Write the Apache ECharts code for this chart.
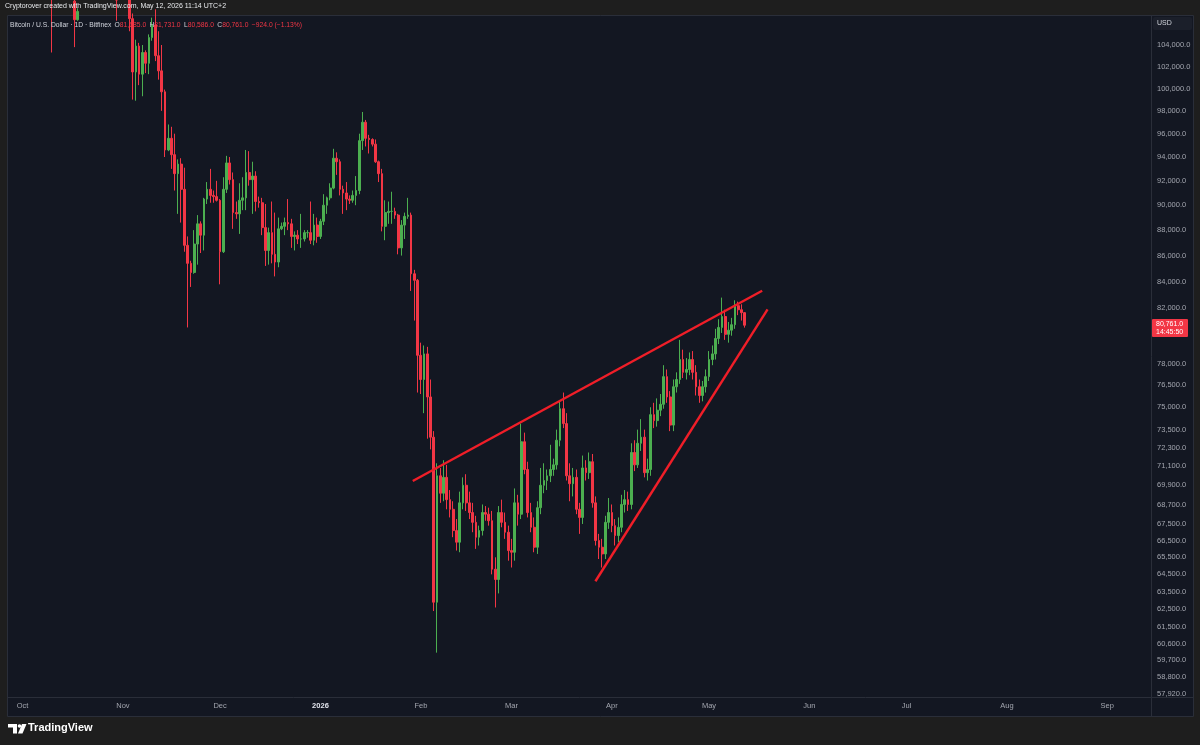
<!DOCTYPE html>
<html><head><meta charset="utf-8">
<script src="https://cdn.jsdelivr.net/npm/echarts@6/dist/echarts.min.js"></script>
<style>html,body{margin:0;padding:0;background:#1e1e1e;}#c{width:1200px;height:745px;}</style>
</head><body><div id="c"></div>
<script>
// Daily candles, BTC/USD (Bitfinex), rows = [open, high, low, close] in thousands of USD
const sep2025 = [ // from Sep 27
  [109.7,110.0,109.1,109.6],[109.6,112.3,109.2,112.1],[112.1,114.4,111.6,114.3],[114.3,114.8,112.7,114.0]
];
const oct2025 = [
  [114.0,118.6,113.9,118.5],[118.5,121.0,118.2,120.5],[120.5,123.9,119.4,122.2],[122.2,122.9,121.4,122.3],
  [122.3,125.7,122.0,123.5],[123.5,126.2,123.0,124.7],[124.7,125.1,120.6,121.4],[121.4,124.1,121.1,123.3],
  [123.3,123.7,119.7,121.7],[121.7,122.5,103.3,113.2],[113.2,113.4,109.7,110.7],[110.7,115.8,109.8,115.0],
  [115.0,116.0,113.0,115.3],[115.3,115.4,110.0,113.0],[113.0,113.6,110.2,110.7],[110.7,111.8,107.5,108.2],
  [108.2,109.2,103.8,106.4],[106.4,107.5,106.3,107.2],[107.2,109.5,106.9,108.6],[108.6,111.7,107.5,110.5],
  [110.5,114.0,107.5,108.4],[108.4,109.0,107.0,107.6],[107.6,111.3,107.5,110.0],[110.0,112.0,109.7,111.0],
  [111.0,111.9,110.6,111.6],[111.6,115.0,111.3,114.5],[114.5,116.4,114.0,114.1],[114.1,116.1,112.2,112.9],
  [112.9,113.6,109.3,110.0],[110.0,111.6,106.3,108.3],[108.3,111.2,108.2,109.6]
];
const nov2025 = [
  [109.6,110.6,109.4,110.1],[110.1,111.2,109.6,110.6],[110.6,110.8,105.3,106.5],[106.5,107.0,99.0,101.5],
  [101.5,104.5,98.9,103.9],[103.9,104.2,100.3,101.3],[101.3,104.0,99.3,103.3],[103.3,103.5,101.4,102.3],
  [102.3,105.0,101.3,104.7],[104.7,106.6,104.4,105.9],[105.9,107.4,102.5,103.0],[103.0,105.3,100.8,101.6],
  [101.6,104.0,98.0,99.7],[99.7,99.9,94.0,94.6],[94.6,96.8,94.5,95.6],[95.6,96.6,93.0,94.2],
  [94.2,96.0,91.2,92.6],[92.6,93.8,89.3,93.4],[93.4,93.9,88.6,91.3],[91.3,93.1,86.3,86.8],
  [86.8,87.5,80.6,85.4],[85.4,85.6,83.6,84.7],[84.7,88.0,84.6,86.9],[86.9,89.2,85.3,88.5],
  [88.5,88.7,86.2,87.6],[87.6,90.6,86.4,90.5],[90.5,91.9,90.1,91.3],[91.3,93.0,90.2,90.8],
  [90.8,91.2,90.2,90.7],[90.7,92.0,90.3,90.4]
];
const dec2025 = [
  [90.4,90.5,83.8,86.3],[86.3,92.3,86.2,91.3],[91.3,94.1,91.0,93.5],[93.5,94.0,91.7,92.1],
  [92.1,92.7,88.1,89.4],[89.4,90.3,88.9,89.3],[89.3,91.8,87.7,90.4],[90.4,92.3,89.6,90.6],
  [90.6,94.6,89.6,92.7],[92.7,94.5,91.6,92.1],[92.1,93.6,89.3,92.4],[92.4,92.8,89.5,90.3],
  [90.3,90.7,89.8,90.2],[90.2,90.6,87.6,88.2],[88.2,90.1,85.2,86.4],[86.4,88.2,85.3,87.8],
  [87.8,90.3,85.4,86.1],[86.1,89.4,84.4,85.5],[85.5,89.0,85.1,88.1],[88.1,88.6,88.0,88.3],
  [88.3,89.0,87.6,88.6],[88.6,90.5,88.0,88.5],[88.5,88.9,86.6,87.5],[87.5,87.9,86.4,87.6],
  [87.6,88.0,86.9,87.3],[87.3,89.3,86.6,87.3],[87.3,88.0,87.1,87.8],[87.8,88.0,87.4,87.8],
  [87.8,90.3,86.9,87.2],[87.2,89.3,86.8,88.4],[88.4,89.0,87.0,87.5]
];
const jan2026 = [
  [87.5,88.9,87.3,88.7],[88.7,90.9,88.4,90.0],[90.0,90.7,89.3,90.6],[90.6,91.8,90.4,91.4],
  [91.4,94.7,91.3,93.9],[93.9,94.4,92.5,93.6],[93.6,93.8,90.8,91.3],[91.3,91.6,89.3,91.0],
  [91.0,91.9,89.6,90.5],[90.5,90.8,90.1,90.4],[90.4,91.2,90.2,90.8],[90.8,92.4,90.0,91.2],
  [91.2,96.0,90.9,95.4],[95.4,97.9,94.6,97.0],[97.0,97.2,94.9,95.6],[95.6,95.9,94.3,95.5],
  [95.5,95.6,94.9,95.1],[95.1,95.5,93.5,93.6],[93.6,93.7,91.9,92.6],[92.6,93.0,87.9,88.3],
  [88.3,90.4,87.2,89.4],[89.4,90.3,88.5,89.5],[89.5,91.1,88.5,89.5],[89.5,89.8,88.9,89.2],
  [89.2,89.3,86.1,86.6],[86.6,88.8,86.0,88.4],[88.4,89.4,87.3,89.1],[89.1,90.6,88.9,89.2],
  [89.2,89.4,83.3,84.6],[84.6,84.9,81.1,84.1],[84.1,84.2,76.0,78.6]
];
const feb2026 = [
  [78.6,79.5,75.9,76.9],[76.9,79.3,74.6,78.7],[78.7,79.2,72.9,75.7],[75.7,76.9,72.2,73.0],
  [73.0,73.4,62.4,62.9],[62.9,71.3,60.1,70.5],[70.5,71.0,68.8,69.4],[69.4,71.5,68.9,70.4],
  [70.4,71.2,68.4,69.0],[69.0,69.6,67.9,68.4],[68.4,68.9,66.7,67.1],[67.1,67.8,65.9,66.4],
  [66.4,69.5,65.8,68.8],[68.8,70.4,68.4,69.9],[69.9,70.6,68.3,68.8],[68.8,69.5,67.8,68.2],
  [68.2,68.8,67.0,67.6],[67.6,68.0,66.0,66.7],[66.7,67.4,66.2,67.1],[67.1,68.7,66.8,68.2],
  [68.2,68.6,67.7,68.1],[68.1,68.5,67.4,67.7],[67.7,68.3,64.5,64.8],[64.8,65.5,62.6,64.2],
  [64.2,68.6,63.4,68.2],[68.2,69.0,67.3,67.6],[67.6,68.2,66.6,67.0],[67.0,67.4,65.3,65.9]
];
const mar2026 = [
  [65.9,66.6,64.9,65.8],[65.8,69.7,65.3,68.8],[68.8,69.3,67.4,68.1],[68.1,73.9,67.8,72.7],
  [72.7,73.3,70.6,70.9],[70.9,71.4,67.9,68.2],[68.2,68.8,67.0,67.3],[67.3,67.9,65.8,66.1],
  [66.1,68.9,65.7,68.5],[68.5,71.0,68.1,69.9],[69.9,71.3,69.4,70.2],[70.2,70.9,69.6,70.5],
  [70.5,72.5,70.1,70.9],[70.9,71.6,70.5,71.2],[71.2,73.5,70.9,72.8],[72.8,75.4,72.4,74.9],
  [74.9,76.0,73.6,73.9],[73.9,74.6,70.2,70.5],[70.5,71.3,68.9,70.0],[70.0,71.0,69.2,70.4],
  [70.4,70.9,68.1,68.4],[68.4,68.8,66.9,67.9],[67.9,71.8,67.5,71.0],[71.0,71.5,70.2,70.7],
  [70.7,72.0,70.3,71.4],[71.4,71.9,68.5,68.8],[68.8,69.2,66.2,66.5],[66.5,66.9,65.4,66.1],
  [66.1,66.6,64.9,65.7],[65.7,68.0,65.4,67.6],[67.6,69.1,67.2,68.2]
];
const apr2026 = [
  [68.2,68.7,67.0,67.4],[67.4,67.8,66.2,66.8],[66.8,67.9,66.4,67.3],[67.3,69.3,67.0,68.7],
  [68.7,69.6,68.2,69.0],[69.0,69.5,68.3,68.7],[68.7,72.6,68.4,72.0],[72.0,72.8,70.8,71.2],
  [71.2,73.5,71.0,72.6],[72.6,74.2,72.1,73.0],[73.0,73.5,70.4,70.7],[70.7,71.6,70.2,70.9],
  [70.9,75.0,70.5,74.5],[74.5,75.3,73.6,74.1],[74.1,75.6,73.7,74.8],[74.8,75.9,74.4,75.2],
  [75.2,77.9,74.9,77.1],[77.1,77.6,75.3,75.7],[75.7,76.1,73.4,73.8],[73.8,76.9,73.4,76.4],
  [76.4,77.4,76.0,76.9],[76.9,79.7,76.6,78.3],[78.3,79.0,77.0,77.4],[77.4,78.4,76.9,77.6],
  [77.6,78.8,77.2,78.3],[78.3,78.9,76.9,77.4],[77.4,77.9,75.8,76.4],[76.4,76.9,75.3,75.8],
  [75.8,76.8,75.4,76.4],[76.4,77.6,76.0,77.1]
];
const may2026 = [ // to May 12
  [77.1,78.9,76.8,78.3],[78.3,79.3,77.9,78.7],[78.7,80.5,78.3,79.8],[79.8,81.2,79.4,80.6],
  [80.6,82.8,80.2,81.4],[81.4,81.9,79.7,80.1],[80.1,81.0,79.5,80.4],[80.4,81.3,80.0,80.8],
  [80.8,82.6,80.5,82.2],[82.2,82.5,81.5,81.9],[81.9,82.3,81.1,81.685],[81.685,81.731,80.586,80.761]
];
const monthBlocks = [
  ['2025-09',27,sep2025],['2025-10',1,oct2025],['2025-11',1,nov2025],['2025-12',1,dec2025],
  ['2026-01',1,jan2026],['2026-02',1,feb2026],['2026-03',1,mar2026],['2026-04',1,apr2026],['2026-05',1,may2026]
];
// Price axis tick labels (as shown on the TradingView scale)
const priceTicks = [104000,102000,100000,98000,96000,94000,92000,90000,88000,86000,84000,82000,78000,76500,75000,
  73500,72300,71100,69900,68700,67500,66500,65500,64500,63500,62500,61500,60600,59700,58800,57920];
const monthNames = ['Jan','Feb','Mar','Apr','May','Jun','Jul','Aug','Sep','Oct','Nov','Dec'];
const axisStart = '2025-09-27', axisEnd = '2026-09-14';
const priceMin = 57742, priceMax = 106758;
// Drawn trend lines (wedge): [time, price]
const upperLine = [['2026-01-29 12:00',70170],['2026-05-17 10:00',83310]];
const lowerLine = [['2026-03-26 22:00',64100],['2026-05-19 02:00',81930]];
const lastPrice = 80761;

const candleDates = [], candleValues = [];
monthBlocks.forEach(([ym, d0, rows]) => rows.forEach((r, i) => {
  candleDates.push(ym + '-' + String(d0 + i).padStart(2, '0'));
  candleValues.push([r[0]*1000, r[3]*1000, r[2]*1000, r[1]*1000]);
}));
const axisDates = [];
for (let t = Date.parse(axisStart + 'T00:00:00Z'); t <= Date.parse(axisEnd + 'T00:00:00Z'); t += 86400000)
  axisDates.push(new Date(t).toISOString().slice(0, 10));
const idx = {}; candleDates.forEach((d, i) => idx[d] = i);
const seriesData = axisDates.map(d => idx[d] != null ? candleValues[idx[d]] : ['-','-','-','-']);

const UP = '#4caf50', DOWN = '#f23645', PANE = '#131722', LINE = '#2a2e39';
const fmt = v => Math.round(v).toLocaleString('en-US', {minimumFractionDigits: 1, maximumFractionDigits: 1});
const FONT = 'Liberation Sans, Arial, sans-serif';

const chart = echarts.init(document.getElementById('c'), null, {renderer: 'canvas'});
chart.setOption({
  animation: false,
  backgroundColor: '#1e1e1e',
  grid: {left: 8, right: 49, top: 16, bottom: 48, show: false},
  xAxis: [{
    type: 'category', data: axisDates, boundaryGap: true,
    axisLine: {show: true, lineStyle: {color: LINE}}, axisTick: {show: false}, splitLine: {show: false},
    axisLabel: {
      interval: (i, v) => v.endsWith('-01'), margin: 5, fontSize: 7.5, color: '#a3a6af', fontFamily: FONT,
      formatter: v => { const m = +v.slice(5, 7); return m === 1 ? '{y|' + v.slice(0, 4) + '}' : monthNames[m - 1]; },
      rich: {y: {fontSize: 7.5, fontWeight: 'bold', color: '#e0e3eb', fontFamily: FONT}}
    }
  }, {
    type: 'time', show: false,
    min: '2025-09-26 12:00', max: axisEnd + ' 12:00'
  }],
  yAxis: {
    type: 'log', logBase: 10, position: 'right', min: priceMin, max: priceMax, scale: true,
    axisLine: {show: true, lineStyle: {color: LINE}}, axisTick: {show: false}, splitLine: {show: false}, minorSplitLine: {show: false},
    axisLabel: {customValues: priceTicks, formatter: fmt, margin: 6, fontSize: 7.5, color: '#a3a6af', fontFamily: FONT}
  },
  series: [{
    type: 'candlestick', data: seriesData, barWidth: 2.2, clip: true,
    itemStyle: {color: UP, color0: DOWN, borderColor: UP, borderColor0: DOWN, borderWidth: 1}
  }, {
    type: 'line', xAxisIndex: 1, data: upperLine, symbol: 'none', clip: true,
    lineStyle: {color: '#f01e28', width: 2.4}, z: 5
  }, {
    type: 'line', xAxisIndex: 1, data: lowerLine, symbol: 'none', clip: true,
    lineStyle: {color: '#f01e28', width: 2.4}, z: 5
  }],
  graphic: [
    {type: 'rect', z: -10, shape: {x: 7.5, y: 15.5, width: 1186, height: 701}, style: {fill: PANE, stroke: LINE, lineWidth: 1}},
    {type: 'line', z: 1, shape: {x1: 1151.5, y1: 697, x2: 1151.5, y2: 716}, style: {stroke: LINE}},
    {type: 'line', z: 1, shape: {x1: 1151, y1: 697.5, x2: 1193, y2: 697.5}, style: {stroke: LINE}},
    {type: 'text', z: 100, left: 5, top: 3, style: {text: 'Cryptorover created with TradingView.com, May 12, 2026 11:14 UTC+2', fill: '#e8eaed', fontSize: 7, fontFamily: FONT}},
    {type: 'text', z: 100, left: 10, top: 19, style: {
      text: '{t|Bitcoin / U.S. Dollar · 1D · Bitfinex} {k|O}{v|81,685.0} {k|H}{v|81,731.0} {k|L}{v|80,586.0} {k|C}{v|80,761.0} {v|−924.0 (−1.13%)}',
      rich: {t: {fill: '#d1d4dc', fontSize: 6.75, fontFamily: FONT}, k: {fill: '#d1d4dc', fontSize: 6.75, fontFamily: FONT}, v: {fill: DOWN, fontSize: 6.75, fontFamily: FONT}}
    }},
    {type: 'rect', z: 100, shape: {x: 1153.5, y: 17.5, width: 38, height: 12, r: 1}, style: {fill: '#1b1f2a', stroke: '#1b1f2a'}},
    {type: 'text', z: 101, left: 1157, top: 20, style: {text: 'USD', fill: '#d1d4dc', fontSize: 7, fontFamily: FONT}},
    {type: 'group', z: 100, children: [
      {type: 'rect', shape: {x: 1152, y: 319, width: 36, height: 18, r: 1}, style: {fill: DOWN}},
      {type: 'text', left: 1156, top: 320.5, style: {text: fmt(lastPrice), fill: '#ffffff', fontSize: 7, fontFamily: FONT}},
      {type: 'text', left: 1156, top: 328.5, style: {text: '14:45:50', fill: '#ffffff', fontSize: 7, fontFamily: FONT}}
    ]},
    {type: 'group', z: 100, children: [
      {type: 'polygon', shape: {points: [[8,724],[17,724],[17,733.5],[13,733.5],[13,727.5],[8,727.5]]}, style: {fill: '#ffffff'}},
      {type: 'circle', shape: {cx: 19.5, cy: 726, r: 1.8}, style: {fill: '#ffffff'}},
      {type: 'polygon', shape: {points: [[22,724],[26.5,724],[22.5,733.5],[18,733.5]]}, style: {fill: '#ffffff'}},
      {type: 'text', left: 28, top: 722, style: {text: 'TradingView', fill: '#ffffff', fontSize: 11, fontWeight: 'bold', fontFamily: FONT}}
    ]}
  ]
});
</script></body></html>
